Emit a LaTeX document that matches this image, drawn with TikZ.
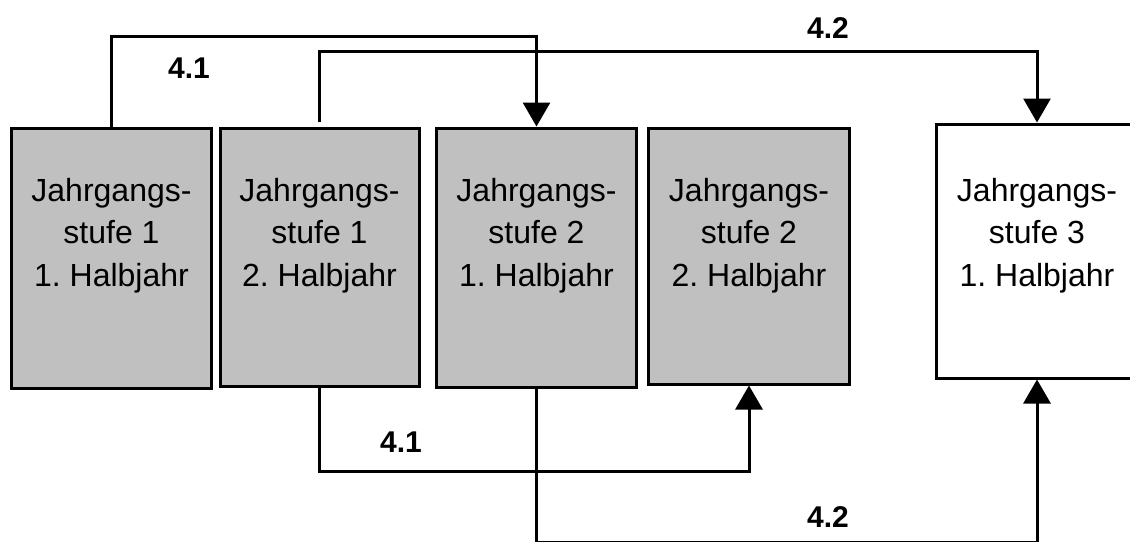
\documentclass[tikz,border=0pt]{standalone}
\usepackage{fontspec}
\setmainfont{Liberation Sans}
\usetikzlibrary{arrows.meta}
\definecolor{boxgray}{HTML}{C0C0C0}
\frenchspacing
\begin{document}
\begin{tikzpicture}[x=1pt,y=-1pt,
  box/.style={draw, line width=3pt, rectangle, inner sep=0pt, fill=boxgray},
  txt/.style={align=center, inner sep=0pt, font=\fontsize{32}{42.5}\selectfont\frenchspacing, anchor=north},
  lbl/.style={font=\bfseries\fontsize{30}{36}\selectfont, inner sep=0pt},
  conn/.style={line width=3pt, -{Triangle[length=24pt,width=27pt]}},
  plain/.style={line width=3pt}]
\useasboundingbox (0,0) rectangle (1130,541);

\node[box, minimum width=200pt, minimum height=260pt] (b1) at (111.5,258) {};
\node[box, minimum width=199pt, minimum height=258pt] (b2) at (319.5,257) {};
\node[box, minimum width=200pt, minimum height=259pt] (b3) at (536.5,257.5) {};
\node[box, minimum width=201pt, minimum height=256pt] (b4) at (749,256) {};
\node[box, fill=white, minimum width=202pt, minimum height=254pt] (b5) at (1037,251) {};

\node[txt] (t1) at (111.5,178) {Jahrgangs-\\stufe 1\\1. Halbjahr};
\node[txt] (t2) at (319.5,178) {Jahrgangs-\\stufe 1\\2. Halbjahr};
\node[txt] (t3) at (536.5,178) {Jahrgangs-\\stufe 2\\1. Halbjahr};
\node[txt] (t4) at (749,178) {Jahrgangs-\\stufe 2\\2. Halbjahr};
\node[txt] (t5) at (1037,178) {Jahrgangs-\\stufe 3\\1. Halbjahr};

\draw[conn] (b1.north) -- ++(0,-90) -| (b3.north);
\draw[conn, shorten <=5pt] (b2.north) -- ++(0,-75) -| (b5.north);
\draw[conn] (b2.south) -- ++(0,84) -| (b4.south);
\draw[conn] (b3.south) -- ++(0,154.3) -| (b5.south);

\node[lbl] (l1) at (189,68) {4.1};
\node[lbl] (l2) at (828,28) {4.2};
\node[lbl] (l3) at (401,442) {4.1};
\node[lbl] (l4) at (828,517) {4.2};
\end{tikzpicture}
\end{document}
